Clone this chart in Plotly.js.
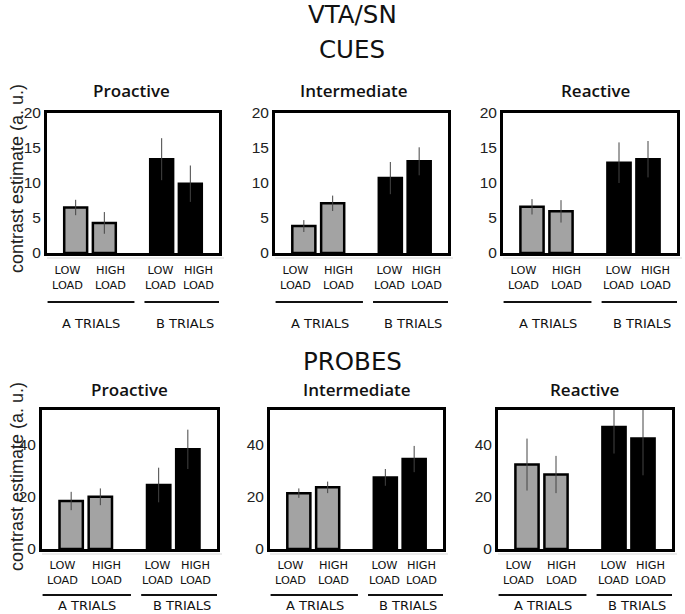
<!DOCTYPE html>
<html>
<head>
<meta charset="utf-8">
<script src="https://cdn.plot.ly/plotly-3.0.1.min.js"></script>
<style>html,body{margin:0;padding:0;background:#fff;}#chart{width:685px;height:614px;}</style>
</head>
<body>
<div id="chart"></div>
<script>
// ---- data ----
var positions = [1, 2, 4, 5];
var barColors = ['#a3a3a3', '#a3a3a3', '#000000', '#000000'];
var loadLabels = ['LOW<br>LOAD', 'HIGH<br>LOAD', 'LOW<br>LOAD', 'HIGH<br>LOAD'];
var trialLabels = ['A TRIALS', 'B TRIALS'];
var panelTitles = ['Proactive', 'Intermediate', 'Reactive'];
var yTitle = 'contrast estimate (a. u.)';

var cuesProactive = [6.5, 4.3, 13.4, 9.9];
var cuesProactiveErr = [1.1, 1.55, 3.0, 2.6];
var cuesIntermediate = [3.85, 7.1, 10.7, 13.1];
var cuesIntermediateErr = [0.85, 1.1, 2.3, 2.0];
var cuesReactive = [6.6, 5.95, 12.9, 13.4];
var cuesReactiveErr = [1.1, 1.6, 2.9, 2.6];

var probesProactive = [18.3, 19.9, 24.4, 38.0];
var probesProactiveErr = [3.5, 3.2, 6.6, 7.5];
var probesIntermediate = [21.3, 23.5, 27.3, 34.3];
var probesIntermediateErr = [1.8, 2.2, 3.2, 5.0];
var probesReactive = [32.2, 28.4, 46.5, 42.1];
var probesReactiveErr = [9.9, 7.1, 10.1, 14.0];

var cuesTicks = [0, 5, 10, 15, 20];
var probesTicks = [0, 20, 40];

// ---- layout helpers ----
var W = 685, H = 614;
function px(x) { return x / W; }
function py(y) { return 1 - y / H; }

var panels = [
  {vals: cuesProactive, err: cuesProactiveErr, dom: [47, 219], row: 0, title: 0, tx: 131},
  {vals: cuesIntermediate, err: cuesIntermediateErr, dom: [275, 448], row: 0, title: 1, tx: 354},
  {vals: cuesReactive, err: cuesReactiveErr, dom: [503, 677], row: 0, title: 2, tx: 595},
  {vals: probesProactive, err: probesProactiveErr, dom: [42, 217], row: 1, title: 0, tx: 129},
  {vals: probesIntermediate, err: probesIntermediateErr, dom: [270, 443], row: 1, title: 1, tx: 357},
  {vals: probesReactive, err: probesReactiveErr, dom: [498, 672], row: 1, title: 2, tx: 584}
];
var rows = [
  {top: 113, bottom: 253, range: [0, 20], ticks: cuesTicks, titleY: 90, low: 271, load: 284, line: 302, trial: 323},
  {top: 410, bottom: 549, range: [0, 53], ticks: probesTicks, titleY: 390, low: 566, load: 580, line: 595, trial: 605}
];
var labelX = [0.7, 2.2, 3.97, 5.27];
var trialX = [1.55, 4.8];
var lineSpans = [[0.02, 3.05], [3.4, 6.0]];

var data = [], annotations = [], shapes = [];
var layout = {
  width: W, height: H,
  margin: {l: 0, r: 0, t: 0, b: 0},
  paper_bgcolor: '#ffffff', plot_bgcolor: '#ffffff',
  showlegend: false,
  font: {family: 'Liberation Sans, Arial, sans-serif', color: '#222'}
};

panels.forEach(function (p, i) {
  var n = i + 1;
  var xa = 'x' + (n === 1 ? '' : n), ya = 'y' + (n === 1 ? '' : n);
  var xk = 'xaxis' + (n === 1 ? '' : n), yk = 'yaxis' + (n === 1 ? '' : n);
  var r = rows[p.row];
  data.push({
    type: 'bar', x: positions, y: p.vals, xaxis: xa, yaxis: ya, width: 0.8,
    marker: {color: barColors, line: {color: '#000', width: 2.5}},
    error_y: {type: 'data', array: p.err, visible: true, color: '#444', thickness: 1, width: 0},
    cliponaxis: true
  });
  layout[xk] = {
    domain: [px(p.dom[0]), px(p.dom[1])], anchor: ya, range: [0, 6],
    showticklabels: false, ticks: '', showgrid: false, zeroline: false,
    showline: true, mirror: true, linecolor: '#000', linewidth: 3, fixedrange: true
  };
  layout[yk] = {
    domain: [py(r.bottom), py(r.top)], anchor: xa, range: r.range,
    tickmode: 'array', tickvals: r.ticks, ticks: '', showgrid: false, zeroline: false,
    showline: true, mirror: true, linecolor: '#000', linewidth: 3, fixedrange: true,
    tickfont: {size: 15.5, family: 'Liberation Sans, Arial, sans-serif', color: '#222'}
  };
  // faint baseline below axis
  shapes.push({
    type: 'line', xref: 'paper', yref: 'paper',
    x0: px(p.dom[0]), x1: px(p.dom[1] + 5), y0: py(r.bottom + 5), y1: py(r.bottom + 5),
    line: {color: '#e4e4e4', width: 1.5}
  });
  // panel title
  annotations.push({
    xref: 'paper', yref: 'paper', x: px(p.tx), y: py(r.titleY),
    text: panelTitles[p.title], showarrow: false, xanchor: 'center', yanchor: 'middle',
    font: {family: 'Open Sans, Noto Sans, sans-serif', size: 17, weight: 600, color: '#111'}
  });
  // load labels
  loadLabels.forEach(function (lab, k) {
    annotations.push({
      xref: xa, yref: 'paper', x: labelX[k], y: py((r.low + r.load) / 2),
      text: lab, showarrow: false, xanchor: 'center', yanchor: 'middle',
      font: {family: 'DejaVu Sans, sans-serif', size: 11.3, color: '#111'}
    });
  });
  // trial labels and lines
  trialLabels.forEach(function (lab, k) {
    annotations.push({
      xref: xa, yref: 'paper', x: trialX[k], y: py(r.trial),
      text: lab, showarrow: false, xanchor: 'center', yanchor: 'middle',
      font: {family: 'DejaVu Sans, sans-serif', size: 13, color: '#111'}
    });
    shapes.push({
      type: 'line', xref: xa, yref: 'paper',
      x0: lineSpans[k][0], x1: lineSpans[k][1], y0: py(r.line), y1: py(r.line),
      line: {color: '#111', width: 2}
    });
  });
});

// y-axis titles
[[0, 179], [1, 477]].forEach(function (a) {
  annotations.push({
    xref: 'paper', yref: 'paper', x: px(17), y: py(a[1]), text: yTitle, textangle: -90,
    showarrow: false, xanchor: 'center', yanchor: 'middle',
    font: {family: 'Liberation Sans, Arial, sans-serif', size: 18, color: '#222'}
  });
});
// main titles
[['VTA/SN', 14], ['CUES', 49], ['PROBES', 361]].forEach(function (t) {
  annotations.push({
    xref: 'paper', yref: 'paper', x: px(352), y: py(t[1]), text: t[0],
    showarrow: false, xanchor: 'center', yanchor: 'middle',
    font: {family: 'DejaVu Sans, sans-serif', size: 24.5, color: '#111'}
  });
});

layout.annotations = annotations;
layout.shapes = shapes;
Plotly.newPlot('chart', data, layout, {staticPlot: true, displayModeBar: false});
</script>
</body>
</html>
